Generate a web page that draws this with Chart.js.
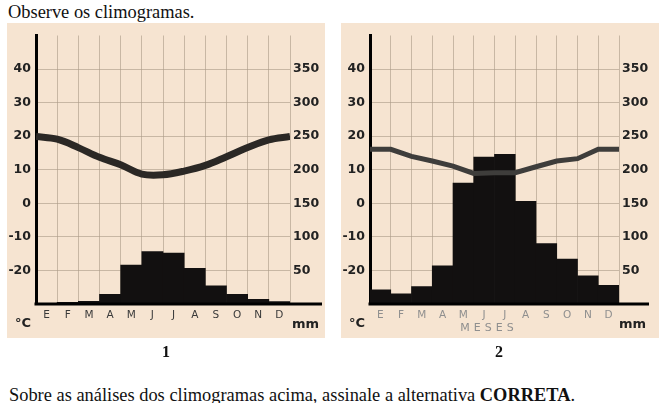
<!DOCTYPE html>
<html>
<head>
<meta charset="utf-8">
<script src="https://cdn.jsdelivr.net/npm/chart.js@4.4.1/dist/chart.umd.min.js"></script>
<style>
    body { margin: 0; background: #fff; width: 664px; height: 403px; position: relative; overflow: hidden; }
    .serif { position: absolute; font-family: 'Liberation Serif', 'Times New Roman', serif; color: #111; white-space: nowrap; line-height: 1; }
    .panel { position: absolute; background: #f6e4d1; }
    .panel canvas { position: absolute; left: 0; top: 0; }
    .unit { position: absolute; font-family: 'DejaVu Sans', sans-serif; font-weight: bold; font-size: 13px; color: #222; }
</style>
</head>
<body>
<div class="serif" style="left:8px; top:3px; font-size:18.4px;">Observe os climogramas.</div>

<div class="panel" style="left:7px; top:23px; width:318px; height:315px;">
    <canvas id="clima-1" width="318" height="315"></canvas>
    <div class="unit" style="left:8px; top:292px;">°C</div>
    <div class="unit" style="left:285px; top:293px;">mm</div>
</div>

<div class="panel" style="left:341px; top:23px; width:318px; height:315px;">
    <canvas id="clima-2" width="318" height="315"></canvas>
    <div class="unit" style="left:8px; top:292px;">°C</div>
    <div class="unit" style="left:278px; top:293px;">mm</div>
    <div style="position:absolute; left:112px; top:298px; width:72px; text-align:center; font-family:'DejaVu Sans',sans-serif; font-size:11px; letter-spacing:4px; color:#8f8f8f;">MESES</div>
</div>

<div class="serif" style="left:162px; top:344px; font-size:16px; font-weight:bold;">1</div>
<div class="serif" style="left:495px; top:344px; font-size:16px; font-weight:bold;">2</div>
<div class="serif" style="left:9px; top:386px; font-size:18.4px;">Sobre as análises dos climogramas acima, assinale a alternativa <b>CORRETA</b>.</div>

<script>
const MONTHS = ['E', 'F', 'M', 'A', 'M', 'J', 'J', 'A', 'S', 'O', 'N', 'D'];

// climograma 1
const temp1 = [19.9, 19.1, 16.6, 13.7, 11.5, 8.7, 8.5, 9.6, 11.3, 13.9, 16.6, 18.9];
const prec1 = [1, 2.5, 4, 14.5, 58, 78, 76, 53, 27, 14.5, 7, 3.5];

// climograma 2
const temp2 = [16.1, 16.1, 14, 12.6, 11.1, 8.9, 9.1, 9.1, 10.9, 12.6, 13.3, 16.1];
const prec2 = [21, 15, 26, 57, 180, 219, 223, 153, 90, 67, 42, 28];

const TEMP_MIN = -30, TEMP_MAX = 50;
const PREC_MIN = 0, PREC_MAX = 400;

const GRID = 'rgba(170, 154, 134, 0.6)';
const TICK_FONT = { family: 'DejaVu Sans', size: 12.5, weight: 'bold' };

// line closes the year: January repeated at the end
function yearLine(temps) {
    const pts = temps.map((t, i) => ({ x: i, y: t }));
    pts.push({ x: temps.length, y: temps[0] });
    return pts;
}

const baseLine = {
    id: 'baseLine',
    afterDraw(chart, args, opts) {
        const ctx = chart.ctx;
        const y = chart.scales.y.getPixelForValue(TEMP_MIN);
        ctx.save();
        ctx.strokeStyle = '#000';
        ctx.lineWidth = 3;
        ctx.beginPath();
        ctx.moveTo(chart.chartArea.left - 1.5, y);
        ctx.lineTo(chart.width - opts.rightGap, y);
        ctx.stroke();
        ctx.restore();
    }
};

function makeClimograma(id, temps, precs, look) {
    const ctx = document.getElementById(id);
    return new Chart(ctx, {
        data: {
            labels: MONTHS,
            datasets: [{
                type: 'line',
                label: 'Temperatura',
                data: yearLine(temps),
                xAxisID: 'xt',
                yAxisID: 'y',
                borderColor: look.lineColor,
                borderWidth: look.lineWidth,
                tension: look.tension,
                pointRadius: 0,
                order: 0,
            }, {
                type: 'bar',
                label: 'Precipitação',
                data: precs,
                xAxisID: 'x',
                yAxisID: 'y2',
                backgroundColor: '#121010',
                borderWidth: 0,
                grouped: false,
                barPercentage: 1,
                categoryPercentage: 1,
                order: 1,
            }],
        },
        options: {
            responsive: false,
            animation: false,
            layout: { padding: { top: 2 } },
            plugins: {
                legend: { display: false },
                tooltip: { enabled: false },
                baseLine: { rightGap: look.baseGap },
            },
            scales: {
                x: {
                    type: 'category',
                    position: 'bottom',
                    z: 1,
                    offset: true,
                    grid: { offset: true, color: GRID, drawTicks: false },
                    border: { display: false },
                    ticks: {
                        padding: 5,
                        color: look.monthColor,
                        font: { family: 'DejaVu Sans', size: 10.5 },
                    },
                    afterFit: (s) => { s.height = 34; },
                },
                xt: {
                    type: 'linear',
                    display: false,
                    min: 0,
                    max: MONTHS.length,
                },
                y: {
                    type: 'linear',
                    position: 'left',
                    z: 1,
                    min: TEMP_MIN,
                    max: TEMP_MAX,
                    grid: {
                        drawTicks: false,
                        color: (c) => (c.tick && (c.tick.value === TEMP_MIN || c.tick.value === TEMP_MAX)) ? 'rgba(0,0,0,0)' : GRID,
                    },
                    border: { display: true, color: '#000', width: 3 },
                    ticks: {
                        stepSize: 10,
                        padding: 5,
                        color: '#222',
                        font: TICK_FONT,
                        callback: (v) => (v === TEMP_MIN || v === TEMP_MAX) ? '' : v,
                    },
                    afterFit: (s) => { s.width = look.leftW; },
                },
                y2: {
                    type: 'linear',
                    position: 'right',
                    min: PREC_MIN,
                    max: PREC_MAX,
                    grid: { display: false, drawTicks: false },
                    border: { display: false },
                    ticks: {
                        stepSize: 50,
                        padding: 3,
                        color: '#222',
                        font: TICK_FONT,
                        callback: (v) => (v === PREC_MIN || v === PREC_MAX) ? '' : v,
                    },
                    afterFit: (s) => { s.width = look.rightW; },
                },
            },
        },
        plugins: [baseLine],
    });
}

makeClimograma('clima-1', temp1, prec1, {
    lineColor: '#2b2825', lineWidth: 7, tension: 0.35,
    monthColor: '#3a3a3a', leftW: 29, rightW: 35, baseGap: 3,
});

makeClimograma('clima-2', temp2, prec2, {
    lineColor: '#3e3d3b', lineWidth: 5, tension: 0,
    monthColor: '#8f8f8f', leftW: 29, rightW: 40, baseGap: 10,
});
</script>
</body>
</html>
